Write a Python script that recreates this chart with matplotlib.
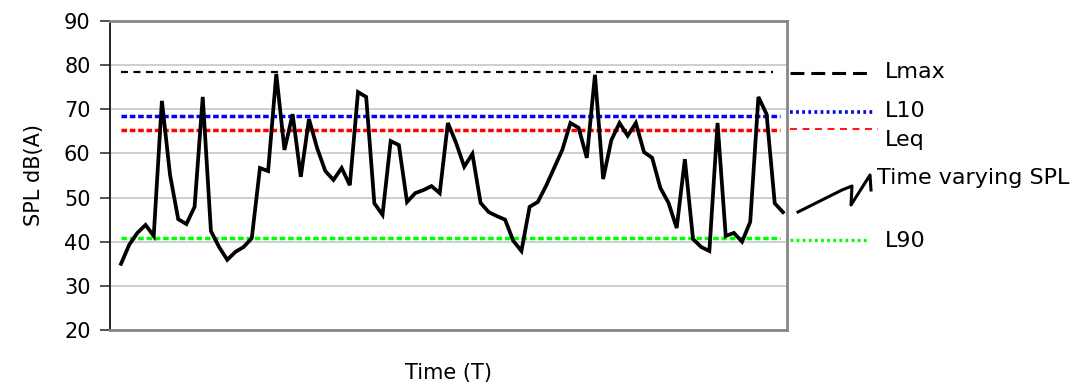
import numpy as np
import matplotlib
matplotlib.use("Agg")
import matplotlib.pyplot as plt
from matplotlib.lines import Line2D

# time varying SPL samples (dB(A)), evenly spaced in time
spl = [35, 39.3, 42, 43.8, 41.3, 71.9, 55.1, 45.1, 44, 47.9,
       72.8, 42.4, 38.8, 35.9, 37.7, 38.8, 40.8, 56.7, 56, 78,
       60.8, 68.9, 54.7, 67.8, 61.2, 56, 54, 56.7, 52.8, 73.9,
       72.8, 48.7, 46.1, 62.8, 61.9, 49, 51, 51.7, 52.6, 51,
       66.9, 62.4, 57, 59.9, 48.8, 46.7, 45.8, 45, 40.2, 37.9,
       47.9, 49, 52.6, 56.7, 60.8, 66.9, 65.8, 59, 77.8, 54.2,
       63, 66.9, 64, 66.9, 60.3, 59, 52.2, 48.8, 43.1, 58.7,
       40.6, 38.8, 37.9, 66.9, 41.3, 42, 40, 44.5, 72.8, 68.9,
       48.7, 46.7]
t = np.arange(len(spl))

# statistical levels
lmax = 78.5
l10 = 68.5
leq = 65.3
l90 = 40.8

yticks = [20, 30, 40, 50, 60, 70, 80, 90]

plt.rcParams['font.family'] = ['DejaVu Sans']
plt.rcParams['lines.scale_dashes'] = False

W, H = 1091, 385
fig = plt.figure(figsize=(W / 100, H / 100), dpi=100)
ax = fig.add_axes([110 / W, 1 - 330 / H, 677 / W, 309 / H])

ax.set_ylim(20, 90)
ax.set_xlim(-1.35, 81.5)
ax.set_yticks(yticks)
ax.set_xticks([])
ax.yaxis.grid(True, color='#cccccc', linewidth=1.3)
ax.set_axisbelow(True)

for side in ['top', 'right', 'bottom']:
    ax.spines[side].set_color('#888888')
    ax.spines[side].set_linewidth(2.0)
ax.spines['left'].set_color('#222222')
ax.spines['left'].set_linewidth(1.4)
ax.tick_params(axis='y', direction='out', length=7, width=1.2, color='#333333',
               labelsize=15, pad=7)

x_end = t[-1] - 0.3
ax.hlines(lmax, t[0], x_end - 0.9, colors='black', linewidth=1.6,
          linestyles=[(0, (5, 4))])
ax.hlines(l10, t[0], x_end, colors='#0000ff', linewidth=2.5,
          linestyles=[(0, (4, 2))])
ax.hlines(leq, t[0], x_end, colors='#ff0000', linewidth=2.5,
          linestyles=[(0, (4, 2))])
ax.hlines(l90, t[0], x_end, colors='#00ff00', linewidth=2.5,
          linestyles=[(0, (4, 2))])

ax.plot(t, spl, color='black', linewidth=2.7, solid_joinstyle='miter')

ax.set_xlabel('Time (T)', fontsize=15, labelpad=24)
ax.set_ylabel('SPL dB(A)', fontsize=15, labelpad=14)


# legend drawn on the right, outside the plot area
def fx(px):
    return px / W


def fy(py):
    return 1 - py / H


legend_items = [
    ('Lmax', 73, 72, 'black', 2.2, (0, (10, 5)), 873),
    ('L10', 112, 111, '#0000ff', 2.6, (0, (2, 2.4)), 875),
    ('Leq', 129, 140, '#ff0000', 1.3, (0, (5, 4)), 878),
    ('L90', 240, 241, '#00ff00', 2.4, (0, (2, 2.4)), 868),
]
for label, ly, ty, col, lw, ls, x1 in legend_items:
    fig.add_artist(Line2D([fx(790), fx(x1)], [fy(ly), fy(ly)], transform=fig.transFigure,
                          color=col, linewidth=lw, linestyle=ls))
    fig.text(fx(885), fy(ty), label, fontsize=16, va='center', ha='left')

sx = [798, 818, 842, 852, 851, 870, 871]
sy = [212, 202, 190, 186, 205, 175, 190]
fig.add_artist(Line2D([fx(v) for v in sx], [fy(v) for v in sy], transform=fig.transFigure,
                      color='black', linewidth=2.2))
fig.text(fx(877), fy(178), 'Time varying SPL', fontsize=16, va='center', ha='left')

fig.savefig('out.png', dpi=100)
